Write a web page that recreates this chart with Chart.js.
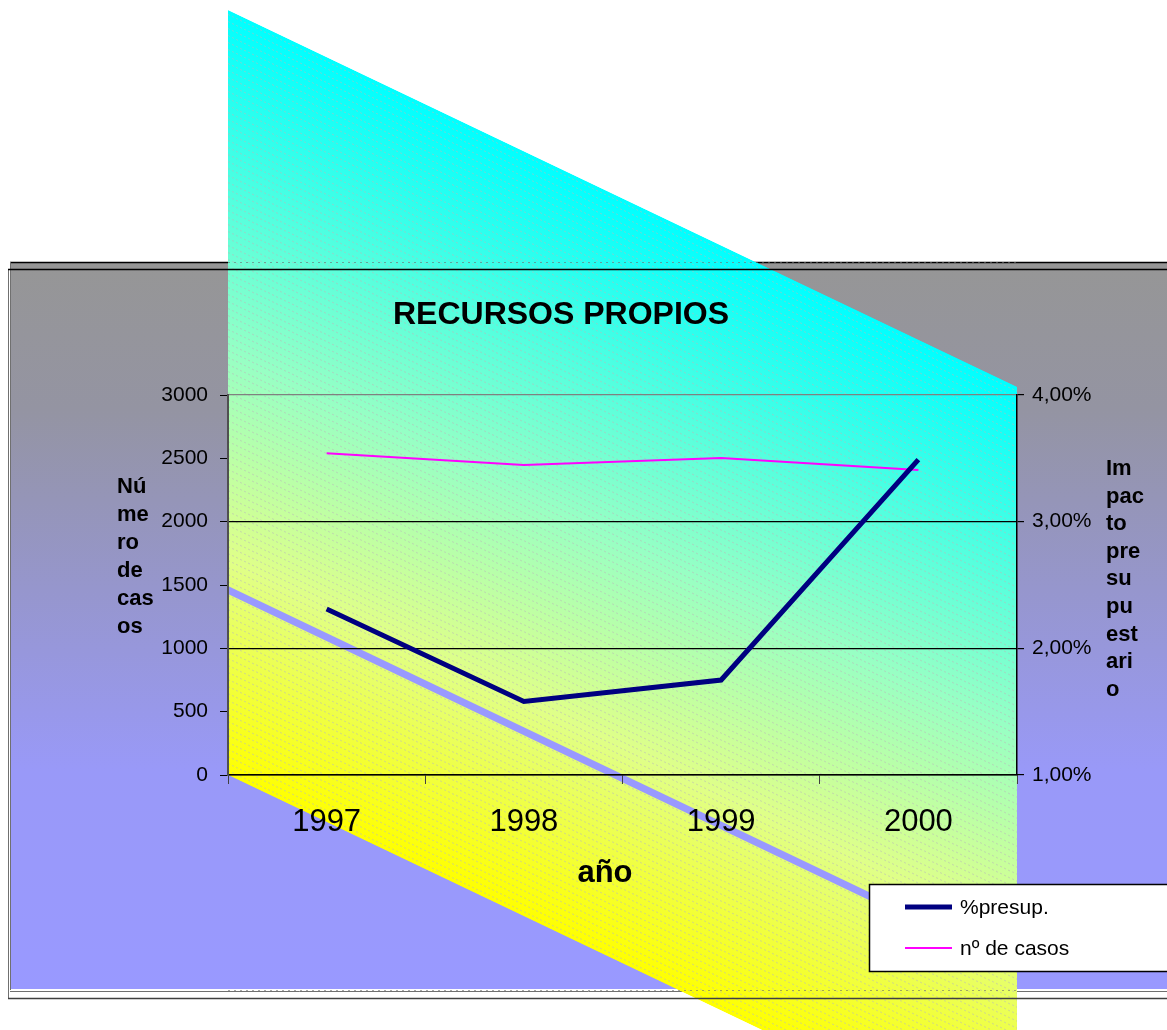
<!DOCTYPE html>
<html><head><meta charset="utf-8">
<script src="https://cdn.jsdelivr.net/npm/chart.js@4"></script>
<style>html,body{margin:0;padding:0;background:#fff;overflow:hidden}canvas{display:block}</style>
</head><body>
<canvas id="c" width="1167" height="1030"></canvas>
<script>
// ---- data ----
const categories = ['1997', '1998', '1999', '2000'];
const presupPct = [2.31, 1.58, 1.75, 3.49];      // % (right axis)
const numCasos = [2540, 2447, 2503, 2408];       // casos (left axis)
const leftAxis = { min: 0, max: 3000, step: 500 };
const rightAxis = { min: 1, max: 4, step: 1 };
const seriesLabels = ['%presup.', 'nº de casos'];
const chartTitle = 'RECURSOS PROPIOS';
const xTitle = 'año';
const yLeftTitleLines = ['Nú', 'me', 'ro', 'de', 'cas', 'os'];
const yRightTitleLines = ['Im', 'pac', 'to', 'pre', 'su', 'pu', 'est', 'ari', 'o'];
const stripeStartValue = 1460;   // left-axis value where the pale stripe enters the plot

const FONT = '"Liberation Sans", Arial, Helvetica, sans-serif';
const SHEAR = 0.4775;

function line(ctx, x1, y1, x2, y2) { ctx.beginPath(); ctx.moveTo(x1, y1); ctx.lineTo(x2, y2); ctx.stroke(); }

const decor = {
  id: 'decor',
  beforeDraw(chart) {
    const ctx = chart.ctx, a = chart.chartArea, W = chart.width;
    ctx.save();
    ctx.fillStyle = '#fff'; ctx.fillRect(0, 0, W, chart.height);
    // outer frame
    const fTop = 263, fBot = 989, fL = 10;
    const g = ctx.createLinearGradient(0, fTop, 0, fBot);
    g.addColorStop(0, 'rgb(150,150,150)');
    g.addColorStop(0.2, 'rgb(148,148,162)');
    g.addColorStop(0.45, 'rgb(150,150,205)');
    g.addColorStop(0.7, 'rgb(153,153,248)');
    g.addColorStop(1, 'rgb(153,153,255)');
    ctx.fillStyle = g; ctx.fillRect(fL, fTop, W - fL, fBot - fTop);
    ctx.lineWidth = 1.5; ctx.strokeStyle = '#000';
    line(ctx, fL, 262.5, W, 262.5);
    ctx.lineWidth = 1; ctx.strokeStyle = '#707070';
    line(ctx, 8.5, 269, 8.5, 999);
    line(ctx, 10.5, 262, 10.5, 990);
    line(ctx, 10, 991.5, W, 991.5);

    // sheared gradient band
    const pl = a.left, pr = a.right;
    const uBot = a.bottom, uTop = a.bottom - 765;
    const dy = SHEAR * (pr - pl);
    ctx.save();
    ctx.beginPath();
    ctx.moveTo(pl, uTop); ctx.lineTo(pr, uTop + dy); ctx.lineTo(pr, uBot + dy); ctx.lineTo(pl, uBot); ctx.closePath();
    ctx.clip();
    ctx.transform(1, SHEAR, 0, 1, 0, -SHEAR * pl);
    const gg = ctx.createLinearGradient(0, uTop, 0, uBot);
    gg.addColorStop(0, '#00ffff');
    gg.addColorStop(0.45, '#98ffc4');
    gg.addColorStop(0.72, '#e0ff88');
    gg.addColorStop(1, '#ffff00');
    ctx.fillStyle = gg; ctx.fillRect(pl, uTop, pr - pl, uBot - uTop);
    // hatching
    ctx.strokeStyle = 'rgba(185,185,185,0.55)'; ctx.lineWidth = 1; ctx.setLineDash([2, 2]);
    for (let u = uTop + 4; u < uBot; u += 7) line(ctx, pl, u + 0.5, pr, u + 0.5);
    ctx.setLineDash([]);
    // pale stripe
    const ys = chart.scales.y.getPixelForValue(stripeStartValue);
    ctx.strokeStyle = '#9999ff'; ctx.lineWidth = 8;
    line(ctx, pl - 5, ys, pr + 5, ys);
    ctx.restore();

    // frame lines over band
    ctx.setLineDash([2, 4]); ctx.strokeStyle = 'rgba(110,110,110,0.6)'; ctx.lineWidth = 1;
    line(ctx, pl, 262.5, pr, 262.5);
    line(ctx, pl, 990.5, pr, 990.5);
    ctx.setLineDash([]);
    ctx.strokeStyle = '#000'; ctx.lineWidth = 1.5;
    line(ctx, 8, 269.5, W, 269.5);
    ctx.strokeStyle = '#404040';
    line(ctx, 8, 998.5, W, 998.5);

    // titles
    ctx.fillStyle = '#000'; ctx.textBaseline = 'alphabetic';
    ctx.font = 'bold 32px ' + FONT; ctx.textAlign = 'center';
    ctx.fillText(chartTitle, 561, 324);
    ctx.font = 'bold 31px ' + FONT;
    ctx.fillText(xTitle, 605, 882);
    ctx.font = 'bold 22px ' + FONT; ctx.textAlign = 'left';
    yLeftTitleLines.forEach((t, i) => ctx.fillText(t, 117, 493 + i * 28));
    yRightTitleLines.forEach((t, i) => ctx.fillText(t, 1106, 475 + i * 27.6));
    ctx.restore();
  },
  afterDraw(chart) {
    const ctx = chart.ctx, W = chart.width;
    ctx.save();
    ctx.fillStyle = '#fff'; ctx.strokeStyle = '#000'; ctx.lineWidth = 1.5;
    ctx.fillRect(869.5, 884.5, W - 869, 87);
    ctx.strokeRect(869.5, 884.5, W - 869 + 5, 87);
    const ds = chart.data.datasets;
    const ys = [907, 948];
    ctx.font = '21px ' + FONT; ctx.textBaseline = 'middle'; ctx.textAlign = 'left';
    ds.forEach((d, i) => {
      ctx.strokeStyle = d.borderColor; ctx.lineWidth = d.borderWidth;
      line(ctx, 905, ys[i], 952, ys[i]);
      ctx.fillStyle = '#000';
      ctx.fillText(d.label, 960, ys[i] + 1);
    });
    ctx.restore();
  }
};

new Chart(document.getElementById('c'), {
  type: 'line',
  data: {
    labels: categories,
    datasets: [
      { label: seriesLabels[0], data: presupPct, yAxisID: 'y1', borderColor: '#000080', borderWidth: 5, pointRadius: 0, tension: 0, fill: false },
      { label: seriesLabels[1], data: numCasos, yAxisID: 'y', borderColor: '#ff00ff', borderWidth: 2, pointRadius: 0, tension: 0, fill: false }
    ]
  },
  options: {
    responsive: false, animation: false,
    layout: { padding: { top: 395, left: 0, right: 0, bottom: 0 } },
    plugins: { legend: { display: false }, title: { display: false }, tooltip: { enabled: false } },
    scales: {
      x: {
        type: 'category', offset: true,
        grid: { offset: true, drawOnChartArea: false, drawTicks: true, tickLength: 9, color: '#404040' },
        border: { display: true, color: '#000', width: 1.5 },
        ticks: { font: { size: 31, family: FONT }, color: '#000', padding: 20, maxRotation: 0, autoSkip: false },
        afterFit: s => { s.height = 255; }
      },
      y: {
        position: 'left', min: leftAxis.min, max: leftAxis.max,
        grid: { drawOnChartArea: false, tickLength: 8, color: '#000' },
        border: { display: true, color: '#505050', width: 2 },
        ticks: { stepSize: leftAxis.step, font: { size: 21, family: FONT }, color: '#000', padding: 12,
          callback: v => String(v) },
        afterFit: s => { s.width = 228; }
      },
      y1: {
        position: 'right', min: rightAxis.min, max: rightAxis.max,
        grid: { drawOnChartArea: true, tickLength: 7, tickColor: '#000', lineWidth: 1.2,
          color: c => (c.tick && c.tick.value === rightAxis.max) ? '#808080' : '#000' },
        border: { display: true, color: '#000', width: 1.5 },
        ticks: { stepSize: rightAxis.step, font: { size: 21, family: FONT }, color: '#000', padding: 8,
          callback: v => v.toFixed(2).replace('.', ',') + '%' },
        afterFit: s => { s.width = 150; }
      }
    }
  },
  plugins: [decor]
});
</script>
</body></html>
